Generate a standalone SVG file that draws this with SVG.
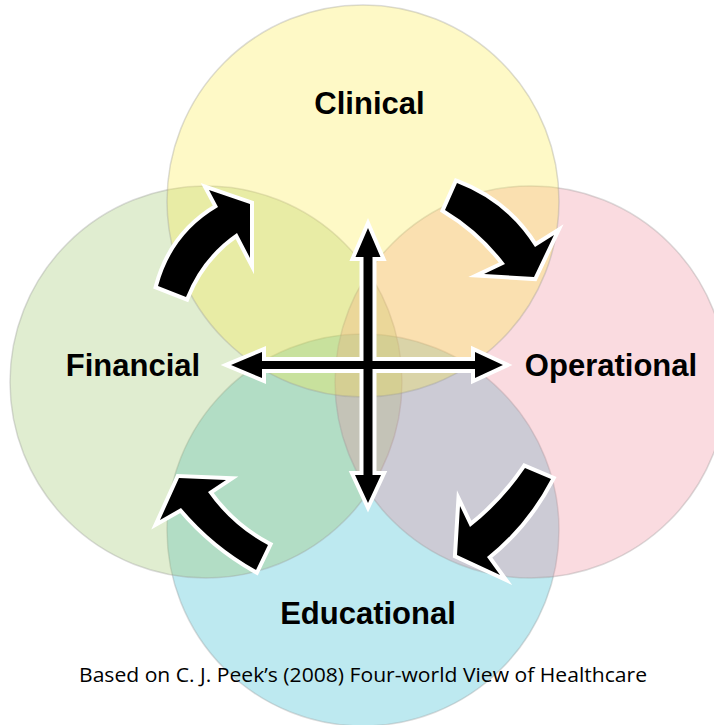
<svg xmlns="http://www.w3.org/2000/svg" width="714" height="725" viewBox="0 0 714 725">
<style>
.c{stroke:#9a9a9a;stroke-opacity:0.35;stroke-width:1.5}
.lbl{font-family:"Liberation Sans",Arial,sans-serif;font-weight:bold;font-size:31px;fill:#000;text-anchor:middle}
.cap{font-family:"Open Sans","Noto Sans",sans-serif;font-size:20.5px;fill:#000}
.halo{fill:#fff;stroke:#fff;stroke-width:8;stroke-linejoin:miter;stroke-miterlimit:10}
.arr{fill:#000}
</style>
<defs>
<path id="aTL" d="M158,286 Q172,234 218,207 L209,190 L250,204 L250,258 L237,233 Q202,257 186,297 Z"/>
<path id="aTR" d="M457,183 Q507,202 535,247 L554,235 L534,277 L484,274 L505,264 Q480,231 445,210 Z"/>
<path id="aBR" d="M551,479 Q527,525 487,557 L500,575 L457,555 L460,506 L470,527 Q502,502 525,468 Z"/>
<path id="aBL" d="M268,545 Q232,526 208,492 L226,480 L179,478 L160,520 L181,508 Q213,546 256,570 Z"/>
<path id="aV" d="M368,228 L380.5,257 L372.5,257 L372.5,475 L381,475 L368,503 L355,475 L363.5,475 L363.5,257 L355.5,257 Z"/>
<path id="aH" d="M231,365 L262,352 L262,361 L475,361 L475,352 L503,365 L475,378 L475,369 L262,369 L262,378 Z"/>
</defs>
<rect width="714" height="725" fill="#fff"/>
<g id="educational">
<circle class="c" cx="363" cy="530" r="196" fill="#23b6cd" fill-opacity="0.3"/>
<text class="lbl" x="368" y="624">Educational</text>
</g>
<g id="financial">
<circle class="c" cx="206" cy="382" r="196" fill="#98c362" fill-opacity="0.3"/>
<text class="lbl" x="133" y="376">Financial</text>
</g>
<g id="operational">
<circle class="c" cx="531" cy="382" r="196" fill="#ee8798" fill-opacity="0.3"/>
<text class="lbl" x="611" y="376">Operational</text>
</g>
<g id="clinical">
<circle class="c" cx="363" cy="201" r="196" fill="#fceb41" fill-opacity="0.3"/>
<text class="lbl" x="369.5" y="113.5">Clinical</text>
</g>
<g id="connectors">
<use href="#aTL" class="halo"/>
<use href="#aTR" class="halo"/>
<use href="#aBR" class="halo"/>
<use href="#aBL" class="halo"/>
<use href="#aV" class="halo"/>
<use href="#aH" class="halo"/>
<use href="#aTL" class="arr"/>
<use href="#aTR" class="arr"/>
<use href="#aBR" class="arr"/>
<use href="#aBL" class="arr"/>
<use href="#aV" class="arr"/>
<use href="#aH" class="arr"/>
</g>
<text class="cap" x="79" y="682" textLength="568" lengthAdjust="spacingAndGlyphs">Based on C. J. Peek’s (2008) Four-world View of Healthcare</text>
</svg>
